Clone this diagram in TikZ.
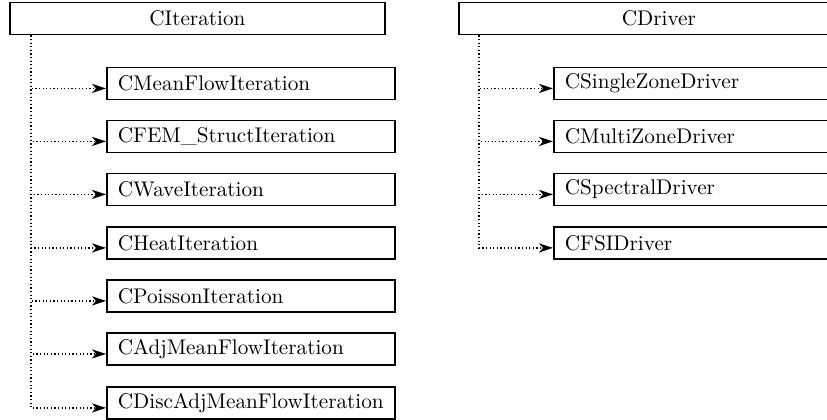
\documentclass[tikz,border=0pt]{standalone}
\usetikzlibrary{arrows.meta}
\begin{document}
\begin{tikzpicture}[x=0.5pt,y=-0.5pt,
  every node/.style={font=\fontsize{10.6}{12}\selectfont},
  box/.style={draw,line width=0.9pt,inner sep=0pt,minimum height=16pt,anchor=north west},
  parentbox/.style={box,align=center},
  childbox/.style={box,text width=133pt,inner xsep=5.5pt,align=left},
  rchildbox/.style={box,text width=162pt,inner xsep=5.5pt,align=left},
  dep/.style={line width=0.7pt,dash pattern=on 0.6pt off 1.2pt,
    -{Stealth[length=7pt,width=4.6pt,inset=2pt]}}]
\useasboundingbox (0,0) rectangle (827,419);
\clip (0,0) rectangle (827,419);
% parents
\node[parentbox,minimum width=187.5pt] (it) at (9,1.5) {CIteration};
\node[parentbox,minimum width=200pt] (dr) at (458,1.5) {CDriver};
% left children
\node[childbox] (c1) at (106,66.5) {CMeanFlowIteration};
\node[childbox] (c2) at (106,119.5) {CFEM\_StructIteration};
\node[childbox] (c3) at (106,172.5) {CWaveIteration};
\node[childbox] (c4) at (106,226) {CHeatIteration};
\node[childbox] (c5) at (106,279) {CPoissonIteration};
\node[childbox] (c6) at (106,332) {CAdjMeanFlowIteration};
\node[childbox] (c7) at (106,386) {CDiscAdjMeanFlowIteration};
% right children
\node[rchildbox] (d1) at (553,66.5) {CSingleZoneDriver};
\node[rchildbox] (d2) at (553,119.5) {CMultiZoneDriver};
\node[rchildbox] (d3) at (553,172.5) {CSpectralDriver};
\node[rchildbox] (d4) at (553,226) {CFSIDriver};
% trunks
\coordinate (itx) at (31,0);
\coordinate (drx) at (479,0);
\foreach \c in {c1,c2,c3,c4,c5,c6,c7}
  \draw[dep] (itx |- it.south) |- ([yshift=-2.5pt]\c.west);
\foreach \c in {d1,d2,d3,d4}
  \draw[dep] (drx |- dr.south) |- ([yshift=-2.5pt]\c.west);
\end{tikzpicture}
\end{document}
